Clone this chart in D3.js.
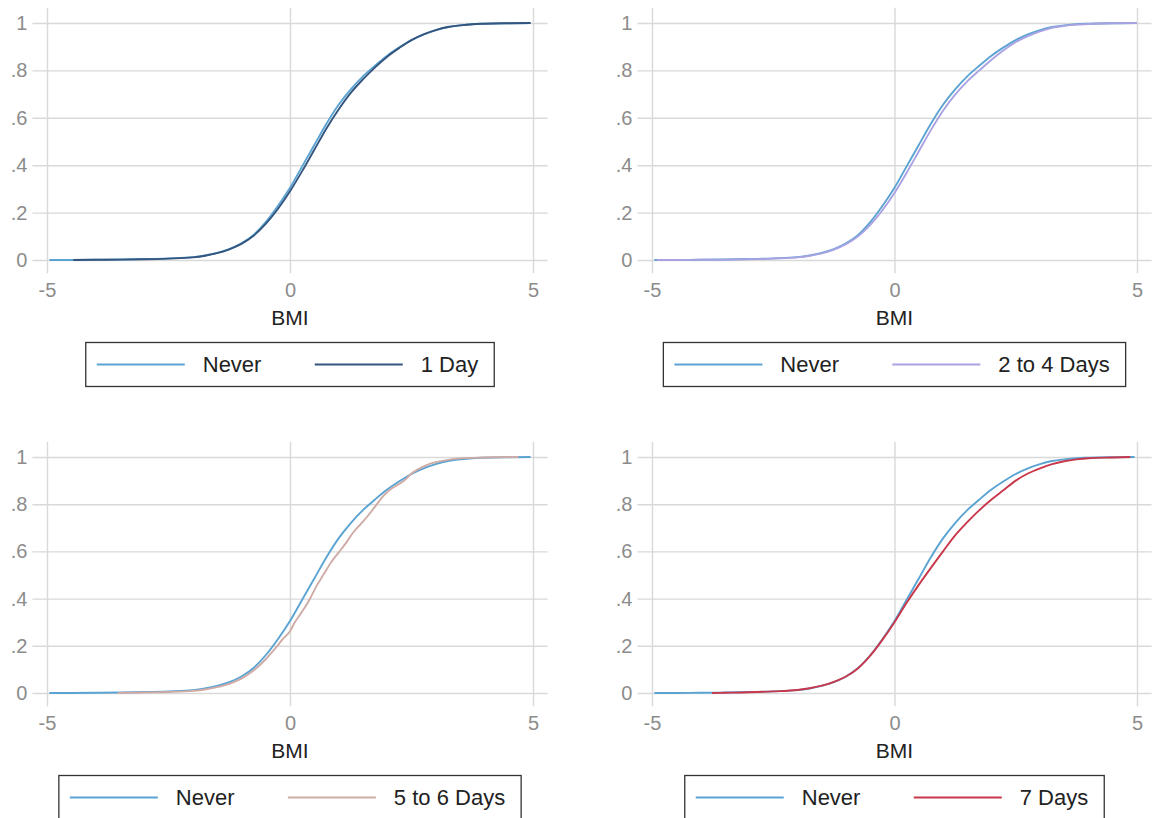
<!DOCTYPE html>
<html><head><meta charset="utf-8">
<script src="https://cdn.jsdelivr.net/npm/d3@7"></script>
<style>body{margin:0;background:#fff} svg{display:block}</style>
</head><body>
<svg id="chart" width="1154" height="818"></svg>
<script>
// ---------- data ----------
const xTicks = [-5, 0, 5];
const xTickLabels = ["-5", "0", "5"];
const yTicks = [0, 0.2, 0.4, 0.6, 0.8, 1];
const yTickLabels = ["0", ".2", ".4", ".6", ".8", "1"];
const xAxisTitle = "BMI";
const baseLabel = "Never";
const groupLabels = ["1 Day", "2 to 4 Days", "5 to 6 Days", "7 Days"];

const neverX = [-4.95,-4.5,-4,-3.5,-3,-2.5,-2,-1.75,-1.5,-1.25,-1,-0.75,-0.5,-0.25,0,0.25,0.5,0.75,1,1.25,1.5,1.75,2,2.25,2.5,2.75,3,3.25,3.5,3.75,4,4.5,4.95];
const neverY = [0,0.0003,0.001,0.002,0.004,0.007,0.012,0.019,0.03,0.046,0.07,0.106,0.16,0.228,0.305,0.395,0.485,0.575,0.655,0.72,0.775,0.82,0.862,0.897,0.928,0.952,0.97,0.983,0.99,0.995,0.997,0.999,1];

const day1X = [-4.46,-4,-3.5,-3,-2.5,-2,-1.75,-1.5,-1.25,-1,-0.75,-0.5,-0.25,0,0.25,0.5,0.75,1,1.25,1.5,1.75,2,2.25,2.5,2.75,3,3.25,3.5,3.75,4,4.5,4.95];
const day1Y = [0,0.0008,0.0015,0.003,0.006,0.011,0.018,0.029,0.045,0.068,0.102,0.152,0.215,0.29,0.375,0.465,0.555,0.635,0.705,0.762,0.813,0.858,0.895,0.928,0.952,0.97,0.983,0.99,0.995,0.997,0.999,1];

const days24X = [-4.9,-4.5,-4,-3.5,-3,-2.5,-2,-1.75,-1.5,-1.25,-1,-0.75,-0.5,-0.25,0,0.25,0.5,0.75,1,1.25,1.5,1.75,2,2.25,2.5,2.75,3,3.25,3.5,3.75,4,4.5,5];
const days24Y = [0,0.0003,0.0008,0.0015,0.003,0.006,0.011,0.018,0.028,0.044,0.067,0.1,0.148,0.21,0.283,0.368,0.458,0.548,0.63,0.698,0.754,0.8,0.845,0.885,0.92,0.945,0.965,0.98,0.988,0.993,0.996,0.999,1];

const days56X = [-3.54,-3,-2.5,-2,-1.75,-1.5,-1.25,-1,-0.75,-0.5,-0.3,-0.15,0,0.1,0.25,0.4,0.55,0.7,0.85,1,1.15,1.3,1.45,1.6,1.75,1.9,2.05,2.2,2.35,2.5,2.65,2.8,3,3.25,3.5,4,4.7];
const days56Y = [0,0.002,0.004,0.009,0.015,0.025,0.039,0.061,0.095,0.143,0.19,0.228,0.262,0.3,0.345,0.395,0.455,0.505,0.555,0.595,0.635,0.68,0.715,0.75,0.79,0.83,0.86,0.88,0.9,0.93,0.95,0.965,0.978,0.988,0.994,0.998,1];

const days7X = [-3.76,-3.5,-3,-2.5,-2,-1.75,-1.5,-1.25,-1,-0.75,-0.5,-0.25,0,0.25,0.5,0.75,1,1.25,1.5,1.75,2,2.25,2.5,2.75,3,3.25,3.5,3.75,4,4.5,4.86];
const days7Y = [0,0.001,0.003,0.007,0.013,0.02,0.031,0.047,0.07,0.105,0.158,0.225,0.3,0.382,0.458,0.53,0.6,0.668,0.724,0.775,0.82,0.86,0.9,0.93,0.952,0.97,0.982,0.99,0.995,0.998,1];

// ---------- styles ----------
const neverColor = "#5aa3d2";
const groupColors = ["#34557e", "#a9a2e2", "#cfaba6", "#c9374b"];
const FONT = "'Liberation Sans', Arial, Helvetica, sans-serif";

const groupSeries = [[day1X, day1Y], [days24X, days24Y], [days56X, days56Y], [days7X, days7Y]];
const frames = [
  {left: 47,  right: 533,  top: 23,  bottom: 260},
  {left: 652, right: 1137, top: 23,  bottom: 260},
  {left: 47,  right: 533,  top: 457, bottom: 693},
  {left: 652, right: 1137, top: 457, bottom: 693}
];

const svg = d3.select("#chart");
svg.append("rect").attr("width", 1154).attr("height", 818).attr("fill", "#fff");

const toPts = (xs, ys) => xs.map((v, i) => [v, ys[i]]);

frames.forEach((f, i) => {
  const x = d3.scaleLinear().domain([-5, 5]).range([f.left, f.right]);
  const y = d3.scaleLinear().domain([0, 1]).range([f.bottom, f.top]);
  const gL = x(-5.3), gR = x(5.3), gT = y(1.064), gB = y(-0.056);
  const g = svg.append("g");

  // y axis with horizontal grid
  const ya = g.append("g").attr("transform", `translate(${gL},0)`)
    .call(d3.axisLeft(y).tickValues(yTicks).tickFormat((d, k) => yTickLabels[k])
      .tickSize(-(gR - gL)).tickPadding(5));
  ya.select(".domain").remove();
  ya.selectAll("line").attr("stroke", "#d9d9d9").attr("stroke-width", 1.4);
  ya.selectAll("text").attr("fill", "#8c8c8c").style("font", `20px ${FONT}`);

  // x axis with vertical grid
  const xa = g.append("g").attr("transform", `translate(0,${gB})`)
    .call(d3.axisBottom(x).tickValues(xTicks).tickFormat((d, k) => xTickLabels[k])
      .tickSize(-(gB - gT)).tickPadding(10));
  xa.select(".domain").remove();
  xa.selectAll("line").attr("stroke", "#d9d9d9").attr("stroke-width", 1.4);
  xa.selectAll("text").attr("fill", "#8c8c8c").style("font", `20px ${FONT}`);

  // axis title
  g.append("text").attr("x", x(0)).attr("y", y(0) + 65).attr("text-anchor", "middle")
    .attr("fill", "#222").style("font", `21px ${FONT}`).text(xAxisTitle);

  // lines
  const line = d3.line().x(d => x(d[0])).y(d => y(d[1])).curve(d3.curveMonotoneX);
  g.append("path").datum(toPts(neverX, neverY)).attr("d", line)
    .attr("fill", "none").attr("stroke", neverColor).attr("stroke-width", 1.9);
  const [gx, gy] = groupSeries[i];
  g.append("path").datum(toPts(gx, gy)).attr("d", line)
    .attr("fill", "none").attr("stroke", groupColors[i]).attr("stroke-width", 1.9);

  // legend
  const lg = g.append("g");
  const lTop = y(0) + 82.5, lH = 44, lMid = lTop + lH / 2;
  const t2 = lg.append("text").style("font", `22px ${FONT}`).attr("fill", "#222").text(groupLabels[i]);
  const tw2 = t2.node().getComputedTextLength();
  const boxW = 11 + 218 + 88 + 18 + tw2 + 16;
  const bx = x(0) - boxW / 2;
  lg.insert("rect", "text").attr("x", bx).attr("y", lTop).attr("width", boxW).attr("height", lH)
    .attr("fill", "#fff").attr("stroke", "#333").attr("stroke-width", 1.3);
  const c1 = bx + 11, c2 = c1 + 218;
  lg.append("line").attr("x1", c1).attr("x2", c1 + 88).attr("y1", lMid).attr("y2", lMid)
    .attr("stroke", neverColor).attr("stroke-width", 2);
  lg.append("text").attr("x", c1 + 106).attr("y", lMid).attr("dy", "0.36em")
    .style("font", `22px ${FONT}`).attr("fill", "#222").text(baseLabel);
  lg.append("line").attr("x1", c2).attr("x2", c2 + 88).attr("y1", lMid).attr("y2", lMid)
    .attr("stroke", groupColors[i]).attr("stroke-width", 2);
  t2.attr("x", c2 + 106).attr("y", lMid).attr("dy", "0.36em");
});
</script>
</body></html>
